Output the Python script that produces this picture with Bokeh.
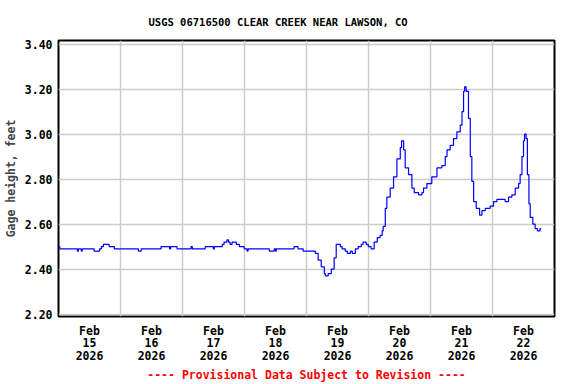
from bokeh.plotting import figure
from bokeh.models import FixedTicker, Title, Range1d
from bokeh.embed import file_html
from bokeh.resources import INLINE

# hours since 2026-02-15 00:00 and gage height (ft)
hours = [0, 0.5, 7.3, 7.7, 8.8, 9.2, 13.8, 15.9, 16.6, 17.4, 19.6, 21.6, 30.9, 32.0,
         39.7, 43.0, 43.4, 45.9, 51.3, 51.8, 56.8, 59.9, 60.3, 63.4, 64.1, 65.2, 65.8,
         66.4, 67.2, 68.8, 70.0, 71.9, 73.0, 73.4, 81.6, 83.5, 84.0, 84.3, 91.2, 92.7,
         94.7, 99.4, 100.5, 101.7, 102.9, 103.3, 104.4, 105.6, 106.7, 107.5, 109.1,
         109.8, 111.0, 111.8, 113.0, 113.7, 114.9, 116.0, 117.2, 117.9, 119.1, 119.9,
         121.0, 122.2, 123.4, 124.5, 125.3, 125.7, 126.5, 127.1, 128.4, 129.7, 131.0,
         132.3, 132.8, 133.6, 134.2, 135.5, 136.8, 137.7, 139.4, 140.7, 141.3, 142.6,
         144.5, 146.5, 148.4, 149.7, 150.4, 151.6, 152.9, 154.2, 155.5, 156.2, 156.8,
         157.2, 157.8, 158.7, 159.4, 160.0, 160.7, 161.7, 163.0, 163.9, 165.2, 167.1,
         168.4, 169.7, 172.3, 172.9, 174.2, 175.5, 176.8, 178.1, 178.7, 179.4, 180.0,
         180.4, 181.0, 181.5, 182.1, 182.6, 183.6, 184.5, 185.4, 186.4, 186.8]
gage = [2.50, 2.49, 2.48, 2.49, 2.48, 2.49, 2.48, 2.49, 2.50, 2.51, 2.50, 2.49, 2.48, 2.49,
        2.50, 2.49, 2.50, 2.49, 2.50, 2.49, 2.50, 2.49, 2.50, 2.51, 2.52, 2.53, 2.52,
        2.51, 2.52, 2.51, 2.50, 2.49, 2.48, 2.49, 2.48, 2.49, 2.48, 2.49, 2.50, 2.49,
        2.48, 2.47, 2.44, 2.41, 2.38, 2.37, 2.38, 2.40, 2.45, 2.51, 2.50,
        2.49, 2.48, 2.47, 2.48, 2.47, 2.49, 2.50, 2.51, 2.52, 2.51, 2.50,
        2.49, 2.52, 2.54, 2.55, 2.57, 2.59, 2.67, 2.72, 2.76, 2.81, 2.89,
        2.94, 2.97, 2.93, 2.85, 2.82, 2.76, 2.74, 2.73, 2.74, 2.76, 2.78,
        2.81, 2.85, 2.86, 2.90, 2.93, 2.95, 2.98, 3.01, 3.04, 3.10, 3.19,
        3.21, 3.19, 3.07, 2.90, 2.79, 2.70, 2.67, 2.64, 2.66, 2.67, 2.68,
        2.70, 2.71, 2.71, 2.70, 2.72, 2.73, 2.76, 2.78, 2.82, 2.90, 2.97,
        3.00, 2.98, 2.82, 2.69, 2.63, 2.60, 2.58, 2.57, 2.58, 2.58]

day_labels = ["Feb\n15\n2026", "Feb\n16\n2026", "Feb\n17\n2026", "Feb\n18\n2026",
              "Feb\n19\n2026", "Feb\n20\n2026", "Feb\n21\n2026", "Feb\n22\n2026"]
y_ticks = [2.20, 2.40, 2.60, 2.80, 3.00, 3.20, 3.40]

FONT = "DejaVu Sans Mono"

p = figure(width=576, height=384, output_backend="svg", toolbar_location=None,
           x_range=Range1d(0, 192), y_range=Range1d(2.189, 3.416),
           min_border_left=58, min_border_right=22, min_border_top=40,
           min_border_bottom=68)

p.step(hours, gage, mode="after", line_color="#0000ff", line_width=1.2)

label_ticks = [12 + 24 * i for i in range(len(day_labels))]
p.xaxis.ticker = FixedTicker(ticks=label_ticks)
p.xaxis.major_label_overrides = {t: l for t, l in zip(label_ticks, day_labels)}
p.xgrid.ticker = FixedTicker(ticks=[24 * i for i in range(1, 8)])
p.yaxis.ticker = FixedTicker(ticks=y_ticks)
p.yaxis.major_label_overrides = {t: f"{t:.2f}" for t in y_ticks}
p.ygrid.ticker = FixedTicker(ticks=y_ticks)

for ax in (p.xaxis, p.yaxis):
    ax.axis_line_color = None
    ax.major_tick_line_color = None
    ax.minor_tick_line_color = None
    ax.major_tick_out = 0
    ax.major_tick_in = 0
    ax.minor_tick_out = 0
    ax.major_label_text_font = FONT
    ax.major_label_text_font_style = "bold"
    ax.major_label_text_font_size = "11.5px"
    ax.major_label_text_color = "black"
p.xaxis.major_label_standoff = 7
p.xaxis.major_label_text_line_height = 0.9
p.yaxis.major_label_standoff = 6

p.yaxis.axis_label = "Gage height, feet"
p.yaxis.axis_label_text_font = FONT
p.yaxis.axis_label_text_font_style = "bold"
p.yaxis.axis_label_text_font_size = "11.5px"
p.yaxis.axis_label_standoff = 4

p.xgrid.grid_line_color = "#cccccc"
p.ygrid.grid_line_color = "#cccccc"
p.xgrid.grid_line_width = 1.5
p.ygrid.grid_line_width = 1.5
p.outline_line_color = "black"
p.outline_line_width = 2
p.outline_line_alpha = 1
p.background_fill_color = "white"
p.border_fill_color = "white"

p.title = Title(text="USGS 06716500 CLEAR CREEK NEAR LAWSON, CO", align="left",
                offset=90, text_font=FONT, text_font_style="bold",
                text_font_size="10.5px", text_color="black", standoff=25)
p.add_layout(Title(text="---- Provisional Data Subject to Revision ----",
                   align="center", text_font=FONT, text_font_style="bold",
                   text_font_size="11.5px", text_color="#ff0000", standoff=0), "below")

open("out.html", "w").write(file_html(p, INLINE))
